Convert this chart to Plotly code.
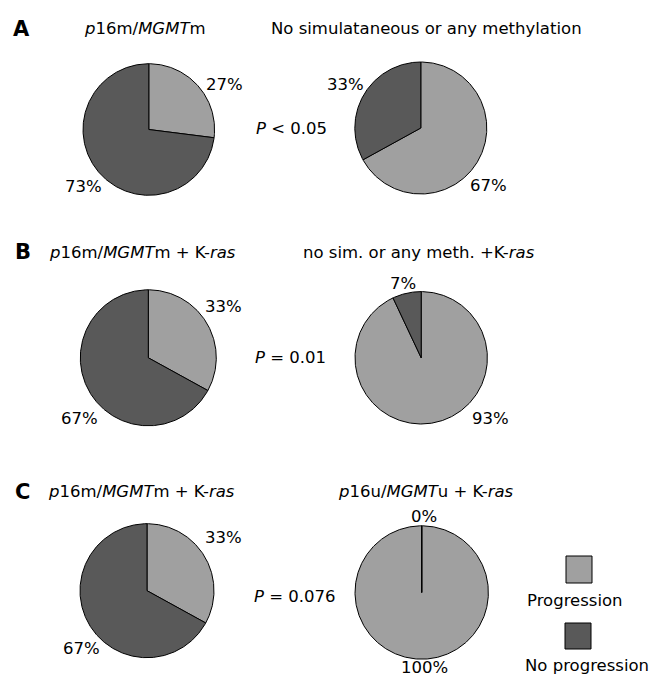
import numpy as np
import plotly.graph_objects as go

W, H = 651, 679
FONT = "DejaVu Sans, Verdana, sans-serif"
FS = 16.5

# ---- data ----
categories = ["Progression", "No progression"]
panel_letters = ["A", "B", "C"]
group_titles = [
    ["<i>p</i>16m/<i>MGMT</i>m", "No simulataneous or any methylation"],
    ["<i>p</i>16m/<i>MGMT</i>m + K-<i>ras</i>", "no sim. or any meth. +K-<i>ras</i>"],
    ["<i>p</i>16m/<i>MGMT</i>m + K-<i>ras</i>", "<i>p</i>16u/<i>MGMT</i>u + K-<i>ras</i>"],
]
progression = [27, 67, 33, 93, 33, 100]
no_progression = [73, 33, 67, 7, 67, 0]
p_values = ["<i>P</i> < 0.05", "<i>P</i> = 0.01", "<i>P</i> = 0.076"]

colors = {"Progression": "#a0a0a0", "No progression": "#595959"}

# ---- layout geometry (pixels, from top-left) ----
pie_geom = [  # cx, cy, r
    (148.8, 129.5, 65.8), (420.8, 128.0, 66.0),
    (148.3, 357.8, 68.0), (421.2, 357.8, 66.2),
    (147.0, 590.7, 67.0), (421.7, 592.5, 66.7),
]
# label cap-centres for [progression, no progression]
label_pos = [
    [(224, 82.5), (83, 185)], [(488, 184), (346, 82.5)],
    [(223, 305), (79, 417)], [(490.5, 417), (403, 282)],
    [(223, 535.5), (81, 646.5)], [(424, 666), (424, 515)],
]
PAD = 1.05

fig = go.Figure()
layout_axes = {}


def px(x, y):
    return x / W, 1 - y / H


def wedge(f0, f1):
    n = max(int(abs(f1 - f0) * 600), 2)
    t = np.linspace(f0, f1, n) * 2 * np.pi
    xs = np.concatenate([[0], np.sin(t), [0]])
    ys = np.concatenate([[0], np.cos(t), [0]])
    return xs, ys


for i, (cx, cy, r) in enumerate(pie_geom):
    k = i + 1
    xa = "x" if k == 1 else f"x{k}"
    ya = "y" if k == 1 else f"y{k}"
    vals = [progression[i], no_progression[i]]
    total = sum(vals)
    start = 0.0
    for cat, v in zip(categories, vals):
        frac = v / total
        xs, ys = wedge(start, start + frac)
        start += frac
        fig.add_trace(go.Scatter(
            x=xs, y=ys, mode="lines", fill="toself",
            fillcolor=colors[cat], line=dict(color="black", width=1),
            xaxis=xa, yaxis=ya, showlegend=False, name=cat,
            hovertemplate=f"{cat}: {v}%<extra></extra>",
        ))
    x0, y1 = px(cx - r * PAD, cy - r * PAD)
    x1, y0 = px(cx + r * PAD, cy + r * PAD)
    axx = dict(domain=[x0, x1], range=[-PAD, PAD], visible=False, fixedrange=True)
    axy = dict(domain=[y0, y1], range=[-PAD, PAD], visible=False, fixedrange=True)
    if k > 1:
        axx["anchor"] = ya
        axy["anchor"] = xa
    layout_axes["xaxis" if k == 1 else f"xaxis{k}"] = axx
    layout_axes["yaxis" if k == 1 else f"yaxis{k}"] = axy

annotations = []


def text(s, x, y, size=FS, bold=False):
    ax, ay = px(x, y + 1.5)
    annotations.append(dict(
        text=f"<b>{s}</b>" if bold else s, x=ax, y=ay, xref="paper", yref="paper",
        xanchor="center", yanchor="middle", showarrow=False,
        font=dict(family=FONT, size=size, color="black"),
    ))


for i in range(6):
    vals = [progression[i], no_progression[i]]
    for v, (lx, ly) in zip(vals, label_pos[i]):
        text(f"{v}%", lx, ly)

row_y = [27, 250.5, 490]
letter_pos = [(21, 28), (23, 250.5), (22, 490)]
title_x = [[145, 426], [142, 419], [141, 426]]
for r in range(3):
    lx, ly = letter_pos[r]
    text(panel_letters[r], lx, ly, size=21, bold=True)
    text(group_titles[r][0], title_x[r][0], row_y[r])
    text(group_titles[r][1], title_x[r][1], row_y[r])

p_pos = [(291, 127), (290, 355.5), (295, 595)]
for s, (x, y) in zip(p_values, p_pos):
    text(s, x, y)

# legend
shapes = []
leg_boxes = [(566, 556, 592, 583), (565, 623, 591, 649)]
leg_text = [(574.5, 599), (587, 664)]
for cat, (bx0, by0, bx1, by1), (tx, ty) in zip(categories, leg_boxes, leg_text):
    a0, b1 = px(bx0, by0)
    a1, b0 = px(bx1, by1)
    shapes.append(dict(type="rect", xref="paper", yref="paper", x0=a0, x1=a1,
                       y0=b0, y1=b1, fillcolor=colors[cat],
                       line=dict(color="black", width=1)))
    text(cat, tx, ty)

fig.update_layout(
    width=W, height=H, margin=dict(l=0, r=0, t=0, b=0),
    paper_bgcolor="white", plot_bgcolor="rgba(0,0,0,0)",
    annotations=annotations, shapes=shapes, showlegend=False,
    **layout_axes,
)
fig.write_html("out.html", config={"displayModeBar": False},
               post_script="document.body.style.margin='0px';")
